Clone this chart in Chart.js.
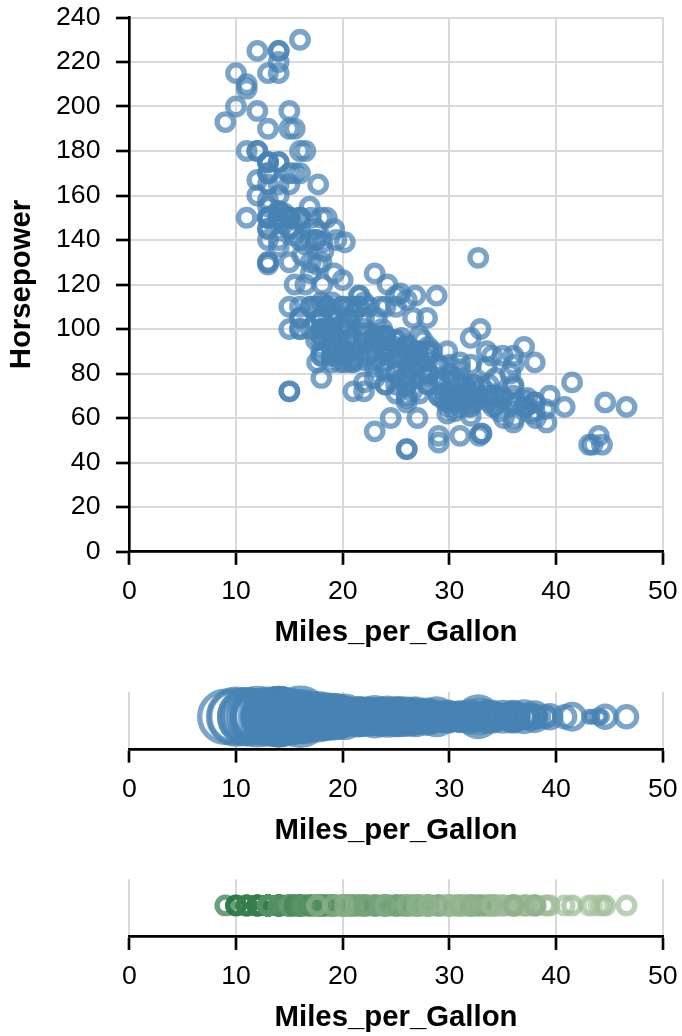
<!DOCTYPE html>
<html>
<head>
<meta charset="utf-8">
<script src="https://cdn.jsdelivr.net/npm/chart.js@4.4.1/dist/chart.umd.min.js"></script>
<style>
  html, body { margin: 0; padding: 0; background: #fff; }
  .panel { position: absolute; left: 0; }
  canvas { display: block; }
</style>
</head>
<body>
<div class="panel" style="top:0px"><canvas id="scatter" width="682" height="660"></canvas></div>
<div class="panel" style="top:660px"><canvas id="sizeStrip" width="682" height="190"></canvas></div>
<div class="panel" style="top:850px"><canvas id="colorStrip" width="682" height="186"></canvas></div>
<script>
// Cars: fuel economy and engine power, one entry per car (null = not recorded)
const milesPerGallon = [
  18,15,18,16,17,15,14,14,14,15,
  15,14,15,14,24,22,18,21,27,26,
  25,24,25,26,21,10,10,11,9,27,
  28,25,25,19,16,17,19,18,14,14,
  14,14,12,13,13,18,22,19,18,23,
  28,30,30,31,35,27,26,24,25,23,
  20,21,13,14,15,14,17,11,13,12,
  13,19,15,13,13,14,18,22,21,26,
  22,28,23,28,27,13,14,13,14,15,
  12,13,13,14,13,12,13,18,16,18,
  18,23,26,11,12,13,12,18,20,21,
  22,18,19,21,26,15,16,29,24,20,
  19,15,24,20,11,20,21,19,15,31,
  26,32,25,16,16,18,16,13,14,14,
  14,29,26,26,31,32,28,24,26,24,
  26,31,19,18,15,15,16,15,16,14,
  17,16,15,18,21,20,13,29,23,20,
  23,24,25,24,18,29,19,23,23,22,
  25,33,28,25,25,26,27,17.5,16,15.5,
  14.5,22,22,24,22.5,29,24.5,29,33,20,
  18,18.5,17.5,29.5,32,28,26.5,20,13,19,
  19,16.5,16.5,13,13,13,31.5,30,36,25.5,
  33.5,17.5,17,15.5,15,17.5,20.5,19,18.5,16,
  15.5,15.5,16,29,24.5,26,25.5,30.5,33.5,30,
  30.5,22,21.5,21.5,43.1,36.1,32.8,39.4,36.1,19.9,
  19.4,20.2,19.2,20.5,20.2,25.1,20.5,19.4,20.6,20.8,
  18.6,18.1,19.2,17.7,18.1,17.5,30,27.5,27.2,30.9,
  21.1,23.2,23.8,23.9,20.3,17,21.6,16.2,31.5,29.5,
  21.5,19.8,22.3,20.2,20.6,17,17.6,16.5,18.2,16.9,
  15.5,19.2,18.5,31.9,34.1,35.7,27.4,25.4,23,27.2,
  23.9,34.2,34.5,31.8,37.3,28.4,28.8,26.8,33.5,41.5,
  38.1,32.1,37.2,28,26.4,24.3,19.1,34.3,29.8,31.3,
  37,32.2,46.6,27.9,40.8,44.3,43.4,36.4,30,44.6,
  40.9,33.8,29.8,32.7,23.7,35,23.6,32.4,27.2,26.6,
  25.8,23.5,30,39.1,39,35.1,32.3,37,37.7,34.1,
  34.7,34.4,29.9,33,34.5,33.7,32.4,32.9,31.6,28.1,
  30.7,25.4,24.2,22.4,26.6,20.2,17.6,28,27,34,
  31,29,27,24,23,36,37,31,38,36,
  36,36,34,38,32,38,25,38,26,22,
  32,36,27,27,44,32,28,31
];
const horsepower = [
  130,165,150,150,140,198,220,215,225,190,
  170,160,150,225,95,95,97,85,88,46,
  87,90,95,113,90,215,200,210,193,88,
  90,95,null,100,105,100,88,100,165,175,
  153,150,180,170,175,110,72,100,88,86,
  90,70,76,65,69,60,70,95,80,54,
  90,86,165,175,150,153,150,208,155,160,
  190,97,150,130,140,150,112,76,87,69,
  86,92,97,80,88,175,150,145,137,150,
  198,150,158,150,215,225,175,105,100,100,
  88,95,46,150,167,170,180,100,88,72,
  94,90,85,107,90,145,230,49,75,91,
  112,150,110,122,180,95,null,100,100,67,
  80,65,75,100,110,105,140,150,150,140,
  150,83,67,78,52,61,75,75,75,97,
  93,67,95,105,72,72,170,145,150,148,
  110,105,110,95,110,110,129,75,83,100,
  78,96,71,97,97,70,90,95,88,98,
  115,53,86,81,92,79,83,140,150,120,
  152,100,105,81,90,52,60,70,53,100,
  78,110,95,71,70,75,72,102,150,88,
  108,120,180,145,130,150,68,80,58,96,
  70,145,110,145,130,110,105,100,98,180,
  170,190,149,78,88,75,89,63,83,67,
  78,97,110,110,48,66,52,70,60,110,
  140,139,105,95,85,88,100,90,105,85,
  110,120,145,165,139,140,68,95,97,75,
  95,105,85,97,103,125,115,133,71,68,
  115,85,88,90,110,130,129,138,135,155,
  142,125,150,71,65,80,80,77,125,71,
  90,70,70,65,69,90,115,115,90,76,
  60,70,65,90,88,90,90,78,90,75,
  92,75,65,105,65,48,48,67,67,67,
  null,67,62,132,100,88,null,72,84,84,
  92,110,84,58,64,60,67,65,62,68,
  63,65,65,74,null,75,75,100,74,80,
  76,116,120,110,105,88,85,88,88,88,
  85,84,90,92,null,74,68,68,63,70,
  88,75,70,67,67,67,110,85,92,112,
  96,84,90,86,52,84,79,82
];

// Axis tick values
const mpgTicks = [0, 10, 20, 30, 40, 50];
const hpTicks = [0, 20, 40, 60, 80, 100, 120, 140, 160, 180, 200, 220, 240];

// Drawing scale: every length below is a base unit times S
const S = 8 / 3;
const FONT = "'Liberation Sans', Arial, Helvetica, sans-serif";
const tickFont = { family: FONT, size: 10 * S, lineHeight: 1.2 };
const titleFont = { family: FONT, size: 11 * S, weight: 'bold', lineHeight: 1.2 };
const BLUE = 'rgba(70,130,180,0.72)';
const GRID = '#dadada';
const X_AXIS_HEIGHT = 99.4;

// Cars with both values recorded
const cars = milesPerGallon
  .map((m, i) => ({ mpg: m, hp: horsepower[i] }))
  .filter(c => c.mpg !== null && c.hp !== null);
const hpValues = cars.map(c => c.hp);
const hpMin = Math.min(...hpValues);
const hpMax = Math.max(...hpValues);
const hpT = hp => (hp - hpMin) / (hpMax - hpMin);

// size channel: area grows linearly with horsepower
function sizeRadius(hp) {
  const area = 9 + hpT(hp) * (361 - 9);
  return S * Math.sqrt(area / Math.PI);
}
// colour channel: light to dark green with horsepower
const GREEN_LO = [175, 198, 163];
const GREEN_HI = [9, 98, 42];
function greenFor(hp) {
  const t = hpT(hp);
  const c = GREEN_LO.map((v, k) => Math.round(v + (GREEN_HI[k] - v) * t));
  return `rgba(${c[0]},${c[1]},${c[2]},0.7)`;
}

Chart.defaults.color = '#000';
Chart.defaults.font.family = FONT;

function zeroPad(s) { s.paddingLeft = 0; s.paddingRight = 0; s.paddingTop = 0; s.paddingBottom = 0; }

function mpgAxis() {
  return {
    type: 'linear', position: 'bottom', min: 0, max: 50,
    afterBuildTicks: s => { s.ticks = mpgTicks.map(v => ({ value: v })); },
    afterFit: s => { s.height = X_AXIS_HEIGHT; zeroPad(s); },
    grid: { color: GRID, lineWidth: 2, drawTicks: true, tickColor: '#000', tickWidth: S, tickLength: 5 * S },
    border: { color: '#000', width: S },
    ticks: { font: tickFont, color: '#000', padding: 10.7, maxRotation: 0, autoSkip: false },
    title: { display: true, text: 'Miles_per_Gallon', font: titleFont, color: '#000', padding: 0 }
  };
}

const common = {
  responsive: false, animation: false, devicePixelRatio: 1, events: [],
  plugins: { legend: { display: false }, tooltip: { enabled: false } }
};

// Horsepower against miles per gallon
new Chart(document.getElementById('scatter'), {
  type: 'scatter',
  data: {
    datasets: [{
      data: cars.map(c => ({ x: c.mpg, y: c.hp })),
      pointRadius: S * Math.sqrt(30 / Math.PI),
      pointBorderWidth: 2 * S,
      pointBackgroundColor: 'rgba(0,0,0,0)',
      pointBorderColor: BLUE,
      clip: false
    }]
  },
  options: {
    ...common,
    layout: { autoPadding: false, padding: { left: 0, top: 17.5, right: 19.2, bottom: 660 - 551.5 - X_AXIS_HEIGHT } },
    scales: {
      x: mpgAxis(),
      y: {
        type: 'linear', position: 'left', min: 0, max: 240,
        afterBuildTicks: s => { s.ticks = hpTicks.map(v => ({ value: v })); },
        afterFit: s => { s.width = 129.3; zeroPad(s); },
        grid: { color: GRID, lineWidth: 2, drawTicks: true, tickColor: '#000', tickWidth: S, tickLength: 5 * S },
        border: { color: '#000', width: S },
        ticks: { font: tickFont, color: '#000', padding: 15.5 },
        title: { display: true, text: 'Horsepower', font: titleFont, color: '#000', padding: { top: 4.4, bottom: 0 } }
      }
    }
  }
});

// Strip of cars along mpg, circle size by horsepower
new Chart(document.getElementById('sizeStrip'), {
  type: 'scatter',
  data: {
    datasets: [{
      data: cars.map(c => ({ x: c.mpg, y: 0, hp: c.hp })),
      pointRadius: ctx => sizeRadius(ctx.raw.hp),
      pointBorderWidth: 2 * S,
      pointBackgroundColor: 'rgba(0,0,0,0)',
      pointBorderColor: BLUE,
      clip: false
    }]
  },
  options: {
    ...common,
    layout: { autoPadding: false, padding: { left: 129.3, top: 31.7, right: 19.2, bottom: 190 - 89.3 - X_AXIS_HEIGHT } },
    scales: {
      x: mpgAxis(),
      y: { display: false, min: -1, max: 0.767 }
    }
  }
});

// Strip of cars along mpg, circle colour by horsepower
new Chart(document.getElementById('colorStrip'), {
  type: 'scatter',
  data: {
    datasets: [{
      data: cars.map(c => ({ x: c.mpg, y: 0, hp: c.hp })),
      pointRadius: S * Math.sqrt(30 / Math.PI),
      pointBorderWidth: 2 * S,
      pointBackgroundColor: 'rgba(0,0,0,0)',
      pointBorderColor: ctx => greenFor(ctx.raw.hp),
      clip: false
    }]
  },
  options: {
    ...common,
    layout: { autoPadding: false, padding: { left: 129.3, top: 29.3, right: 19.2, bottom: 0 } },
    scales: {
      x: mpgAxis(),
      y: { display: false, min: -1, max: 0.839 }
    }
  }
});
</script>
</body>
</html>
